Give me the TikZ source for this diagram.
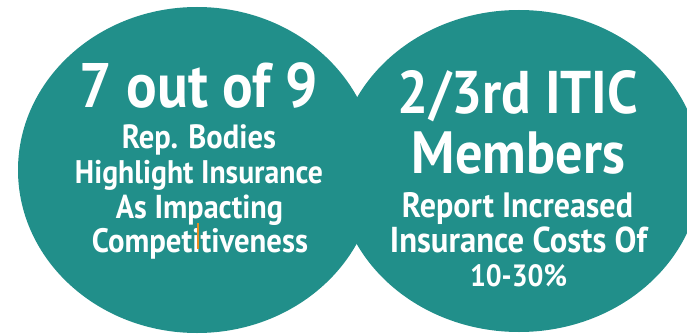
\documentclass[tikz,border=0pt]{standalone}
\usepackage{fontspec}
\setmainfont{PT Sans}
\usepackage{graphicx}
\definecolor{tealc}{RGB}{33,143,138}
\definecolor{cursor}{RGB}{230,140,30}
\newcommand{\fitline}[2]{\scalebox{1}[1.1]{\resizebox{#1}{!}{#2}}}
\begin{document}
\begin{tikzpicture}[x=1pt,y=-1pt,
  blob/.style={fill=tealc,draw=none},
  txt/.style={text=white,font=\bfseries,anchor=base,inner sep=0pt}]
\useasboundingbox (0,0) rectangle (687,334);
\clip (0,0) rectangle (687,334);
\fill[blob] (197,170) ellipse [x radius=179, y radius=163];
\fill[blob] (519,171) ellipse [x radius=182, y radius=161];
% left text
\node[txt] (l1) at (199,108) {\fitline{238pt}{7 out of 9}};
\node[txt] (l2) at (199,148) {\fitline{154pt}{Rep. Bodies}};
\node[txt] (l3) at (199,183) {\fitline{248pt}{Highlight Insurance}};
\node[txt] (l4) at (199.5,218) {\fitline{167pt}{As Impacting}};
\node[txt] (l5) at (200,252) {\fitline{216pt}{Competitiveness}};
% right text
\node[txt] (r1) at (518,113) {\fitline{240pt}{2/3rd ITIC}};
\node[txt] (r2) at (518.5,173) {\fitline{213pt}{Members}};
\node[txt] (r3) at (517.5,217) {\fitline{231pt}{Report Increased}};
\node[txt] (r4) at (518.5,252) {\fitline{257pt}{Insurance Costs Of}};
\node[txt] (r5) at (518.5,286) {\fitline{97pt}{10-30\%}};
% text cursor
\coordinate (c1) at (198,223);
\coordinate (c2) at (198,249);
\draw[cursor,line width=1.3pt] (c1) -- (c2);
\end{tikzpicture}
\end{document}
